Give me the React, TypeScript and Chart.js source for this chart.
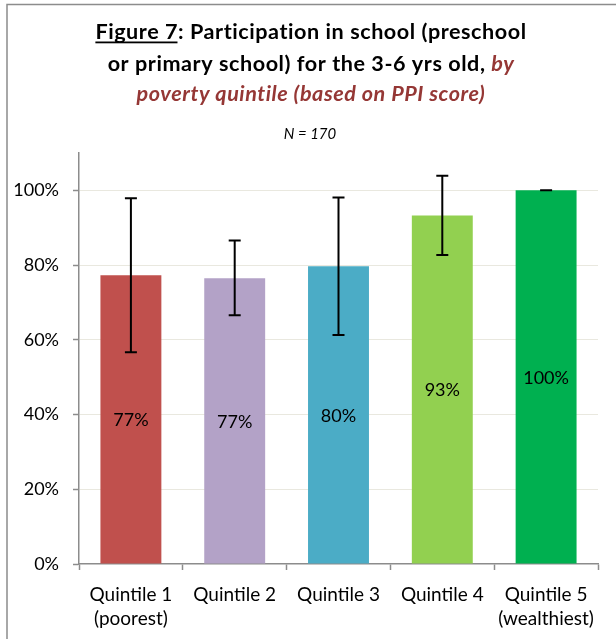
import React, { useEffect, useRef } from "react";
import { Chart, registerables } from "chart.js";

Chart.register(...registerables);

const categories: string[][] = [
  ["Quintile 1", "(poorest)"],
  ["Quintile 2"],
  ["Quintile 3"],
  ["Quintile 4"],
  ["Quintile 5", "(wealthiest)"],
];
const participation: number[] = [0.773, 0.765, 0.797, 0.933, 1.0];
const errorLow: number[] = [0.567, 0.666, 0.613, 0.827, 1.0];
const errorHigh: number[] = [0.979, 0.866, 0.981, 1.039, 1.0];
const valueLabels: string[] = ["77%", "77%", "80%", "93%", "100%"];
const barColors: string[] = ["#C0504D", "#B3A2C7", "#4BACC6", "#92D050", "#00B050"];
const yTicks: number[] = [0, 0.2, 0.4, 0.6, 0.8, 1.0];

const FONT = "Lato, 'Open Sans', sans-serif";
const RED = "#953735";

const decorPlugin = {
  id: "decor",
  beforeDraw(chart: any) {
    const ctx = chart.ctx as CanvasRenderingContext2D;
    ctx.save();
    ctx.fillStyle = "#ffffff";
    ctx.fillRect(0, 0, chart.width, chart.height);
    // frame
    ctx.strokeStyle = "#8c8c8c";
    ctx.lineWidth = 1.5;
    ctx.beginPath();
    ctx.moveTo(7, chart.height);
    ctx.lineTo(7, 4.5);
    ctx.lineTo(chart.width, 4.5);
    ctx.stroke();

    // title rich text
    const cx = 311;
    (ctx as any).letterSpacing = "0.55px";
    const drawLine = (
      parts: { t: string; italic?: boolean; color?: string; underline?: boolean }[],
      y: number
    ) => {
      const fontFor = (p: any) => `${p.italic ? "italic " : ""}bold 21.6px ${FONT}`;
      let total = 0;
      const widths = parts.map((p) => {
        ctx.font = fontFor(p);
        const w = ctx.measureText(p.t).width;
        total += w;
        return w;
      });
      let x = cx - total / 2;
      ctx.textBaseline = "alphabetic";
      ctx.textAlign = "left";
      parts.forEach((p, i) => {
        ctx.font = fontFor(p);
        ctx.fillStyle = p.color || "#000000";
        ctx.fillText(p.t, x, y);
        if (p.underline) {
          ctx.fillRect(x, y + 2.5, widths[i] - 0.6, 1.8);
        }
        x += widths[i];
      });
    };
    drawLine(
      [
        { t: "Figure 7", underline: true },
        { t: ": Participation in school (preschool" },
      ],
      39
    );
    drawLine(
      [
        { t: "or primary school) for the 3-6 yrs old, " },
        { t: "by", italic: true, color: RED },
      ],
      70.5
    );
    drawLine([{ t: "poverty quintile (based on PPI score)", italic: true, color: RED }], 101);

    (ctx as any).letterSpacing = "0px";
    ctx.font = `italic 15px ${FONT}`;
    ctx.fillStyle = "#000000";
    ctx.textAlign = "center";
    ctx.fillText("N = 170", 310, 139);
    ctx.restore();
  },
  afterDatasetsDraw(chart: any) {
    const ctx = chart.ctx as CanvasRenderingContext2D;
    const y = chart.scales.y;
    const meta = chart.getDatasetMeta(0);
    ctx.save();
    // error bars
    ctx.strokeStyle = "#000000";
    ctx.lineWidth = 2;
    meta.data.forEach((bar: any, i: number) => {
      const yl = y.getPixelForValue(errorLow[i]);
      const yh = y.getPixelForValue(errorHigh[i]);
      const x = bar.x;
      const cap = 6;
      ctx.beginPath();
      ctx.moveTo(x, yl);
      ctx.lineTo(x, yh);
      ctx.moveTo(x - cap, yl);
      ctx.lineTo(x + cap, yl);
      ctx.moveTo(x - cap, yh);
      ctx.lineTo(x + cap, yh);
      ctx.stroke();
    });
    // value labels
    ctx.font = `18px ${FONT}`;
    ctx.fillStyle = "#000000";
    ctx.textAlign = "center";
    ctx.textBaseline = "middle";
    meta.data.forEach((bar: any, i: number) => {
      ctx.fillText(valueLabels[i], bar.x, (bar.y + bar.base) / 2 + 1);
    });
    ctx.restore();
  },
};

export default function App() {
  const ref = useRef<HTMLCanvasElement | null>(null);
  useEffect(() => {
    if (!ref.current) return;
    const chart = new Chart(ref.current, {
      type: "bar",
      data: {
        labels: categories,
        datasets: [
          {
            data: participation,
            backgroundColor: barColors,
            borderWidth: 0,
            categoryPercentage: 1.0,
            barPercentage: 0.587,
          },
        ],
      },
      options: {
        animation: false,
        responsive: false,
        devicePixelRatio: 1,
        layout: { padding: { left: 0, top: 153, right: 18, bottom: 0 } },
        plugins: {
          legend: { display: false },
          title: { display: false },
          tooltip: { enabled: false },
        },
        scales: {
          x: {
            grid: {
              display: true,
              drawOnChartArea: false,
              offset: true,
              tickLength: 6,
              tickColor: "#8c8c8c",
              tickWidth: 1.5,
            },
            border: { display: true, color: "#8c8c8c", width: 1.5 },
            ticks: {
              color: "#000000",
              font: { family: FONT, size: 19, lineHeight: 1.27 },
              padding: 13,
              maxRotation: 0,
              autoSkip: false,
            },
            afterFit: (s: any) => {
              s.height = 75;
            },
          },
          y: {
            min: 0,
            max: 1.1,
            afterBuildTicks: (axis: any) => {
              axis.ticks = yTicks.map((v) => ({ value: v }));
            },
            grid: {
              color: (c: any) => (c.tick && c.tick.value === 0 ? "rgba(0,0,0,0)" : "#e9e8df"),
              lineWidth: 1,
              tickLength: 6,
              tickColor: "#8c8c8c",
              tickWidth: 1.5,
            },
            border: { display: true, color: "#8c8c8c", width: 1.5 },
            ticks: {
              color: "#000000",
              font: { family: FONT, size: 18 },
              padding: 14,
              callback: (v: any) => `${Math.round(Number(v) * 100)}%`,
            },
            afterFit: (s: any) => {
              s.width = 79;
            },
          },
        },
      },
      plugins: [decorPlugin],
    });
    return () => chart.destroy();
  }, []);
  return (
    <div style={{ position: "absolute", left: 0, top: 0, width: 616, height: 639 }}>
      <canvas ref={ref} width={616} height={639} style={{ display: "block" }} />
    </div>
  );
}
